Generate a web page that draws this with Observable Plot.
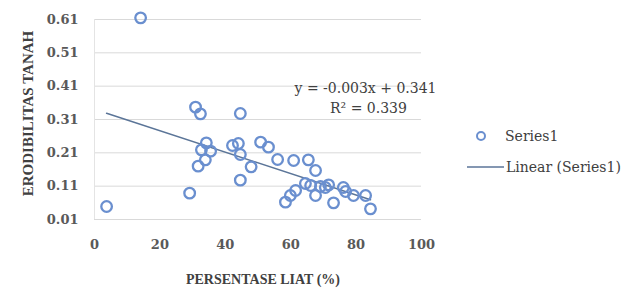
<!DOCTYPE html>
<html>
<head>
<meta charset="utf-8">
<script src="https://cdn.jsdelivr.net/npm/d3@7"></script>
<script src="https://cdn.jsdelivr.net/npm/@observablehq/plot@0.6"></script>
<style>
  html, body { margin: 0; padding: 0; background: #fff; }
  #wrap { position: relative; width: 629px; height: 294px; overflow: hidden; }
  .leg { position: absolute; font-family: "DejaVu Serif", serif; font-size: 14px; color: #404040; white-space: nowrap; line-height: 1; }
</style>
</head>
<body>
<div id="wrap"></div>
<script>
// Percentage clay (x) and soil erodibility (y)
const clay = [14.1, 3.7, 29.1, 30.9, 32.4, 44.6, 34.2, 32.7, 35.5, 33.9, 31.7, 42.2, 44.0, 44.6, 44.6, 47.9,
              50.8, 53.2, 56.0, 60.9, 65.4, 67.6, 58.4, 59.9, 61.5, 66.1, 67.6, 69.1, 71.6, 73.1, 76.1, 76.8,
              79.2, 82.9, 84.4, 64.5, 70.6];
const erod = [0.615, 0.049, 0.089, 0.347, 0.327, 0.328, 0.240, 0.219, 0.215, 0.189, 0.170, 0.232, 0.238, 0.205, 0.128, 0.168,
              0.242, 0.227, 0.190, 0.187, 0.189, 0.157, 0.062, 0.082, 0.097, 0.112, 0.082, 0.109, 0.114, 0.060, 0.106, 0.094,
              0.082, 0.082, 0.042, 0.118, 0.106];
const xTicks = [0, 20, 40, 60, 80, 100];
const yTicks = [0.01, 0.11, 0.21, 0.31, 0.41, 0.51, 0.61];
const xTitle = "PERSENTASE LIAT (%)";
const yTitle = "ERODIBILITAS TANAH";
const equation = "y = -0.003x + 0.341";
const rSquared = "R² = 0.339";
const seriesName = "Series1";
const trendName = "Linear (Series1)";

const data = clay.map((c, i) => ({clay: c, erod: erod[i]}));
const markerColor = "#6a8fcf";
const lineColor = "#5b7598";

const chart = Plot.plot({
  width: 629,
  height: 294,
  marginLeft: 94,
  marginRight: 208,
  marginTop: 19,
  marginBottom: 75,
  style: {fontFamily: "DejaVu Serif, serif", fontSize: "13px", color: "#595959", background: "#fff"},
  x: {domain: [0, 100]},
  y: {domain: [0.01, 0.61]},
  marks: [
    Plot.gridY(yTicks, {stroke: "#d9d9d9", strokeOpacity: 1, strokeWidth: 1}),
    Plot.ruleX([0], {stroke: "#e4e4e4"}),
    Plot.axisY({ticks: yTicks, tickFormat: d3.format(".2f"), tickSize: 0, tickPadding: 16, fontWeight: "bold", fontSize: 13, label: null}),
    Plot.axisX({ticks: xTicks, tickFormat: d3.format("d"), tickSize: 0, tickPadding: 20, fontWeight: "bold", fontSize: 13, label: null}),
    Plot.linearRegressionY(data, {x: "clay", y: "erod", ci: 0, stroke: lineColor, strokeWidth: 1.5}),
    Plot.dot(data, {x: "clay", y: "erod", r: 5.3, stroke: markerColor, strokeWidth: 2.3, fill: "none"}),
    Plot.text([equation], {frameAnchor: "top-left", dx: 271, dy: 64, text: d => d, fill: "#404040", fontSize: 14, textAnchor: "middle"}),
    Plot.text([rSquared], {frameAnchor: "top-left", dx: 274, dy: 84, text: d => d, fill: "#404040", fontSize: 14, textAnchor: "middle"}),
    Plot.text([xTitle], {frameAnchor: "bottom", dx: 5, dy: 64, text: d => d, fill: "#404040", fontFamily: "Liberation Serif, serif", fontWeight: "bold", fontSize: 14}),
    Plot.text([yTitle], {frameAnchor: "left", dx: -66, dy: -6, rotate: -90, textAnchor: "middle", text: d => d, fill: "#404040", fontFamily: "Liberation Serif, serif", fontWeight: "bold", fontSize: 15})
  ]
});

const wrap = document.getElementById("wrap");
wrap.appendChild(chart);

// Legend (HTML, positioned to the right of the plot)
const leg1 = document.createElement("div");
leg1.className = "leg";
leg1.style.left = "474px";
leg1.style.top = "128px";
leg1.innerHTML = `<svg width="14" height="14" style="vertical-align:middle"><circle cx="7" cy="7" r="4" fill="none" stroke="${markerColor}" stroke-width="2"/></svg><span style="margin-left:17px;vertical-align:middle">${seriesName}</span>`;
wrap.appendChild(leg1);

const leg2 = document.createElement("div");
leg2.className = "leg";
leg2.style.left = "467px";
leg2.style.top = "159px";
leg2.innerHTML = `<svg width="37" height="14" style="vertical-align:middle"><line x1="0" x2="37" y1="7" y2="7" stroke="${lineColor}" stroke-width="1.5"/></svg><span style="margin-left:2px;vertical-align:middle">${trendName}</span>`;
wrap.appendChild(leg2);
</script>
</body>
</html>
